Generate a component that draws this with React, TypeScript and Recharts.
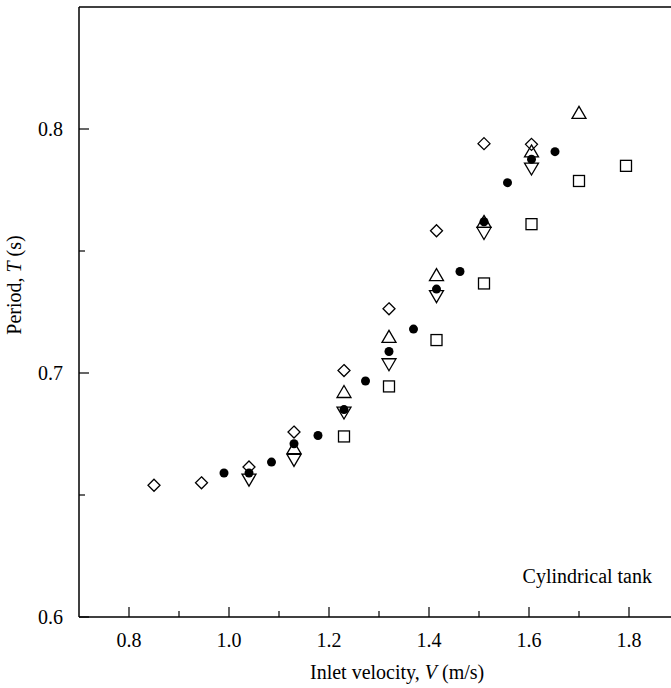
import React from 'react'
import { ScatterChart, Scatter, XAxis, YAxis, ReferenceLine } from 'recharts'

// tick values
const xTicks = [0.8, 0.9, 1.0, 1.1, 1.2, 1.3, 1.4, 1.5, 1.6, 1.7, 1.8]
const xMajor = [0.8, 1.0, 1.2, 1.4, 1.6, 1.8]
const yTicks = [0.6, 0.65, 0.7, 0.75, 0.8]
const yMajor = [0.6, 0.7, 0.8]

// open diamonds
const diamondV = [0.85, 0.945, 1.04, 1.13, 1.23, 1.32, 1.415, 1.51, 1.605]
const diamondT = [0.654, 0.655, 0.6615, 0.6758, 0.701, 0.7263, 0.7583, 0.794, 0.7937]

// filled circles
const dotV = [0.99, 1.04, 1.085, 1.13, 1.178, 1.23, 1.273, 1.32, 1.369, 1.415, 1.462, 1.51, 1.557, 1.605, 1.652]
const dotT = [0.659, 0.659, 0.6635, 0.671, 0.6744, 0.685, 0.6967, 0.7088, 0.718, 0.7344, 0.7416, 0.762, 0.778, 0.7876, 0.7907]

// open triangles (up)
const upV = [1.13, 1.23, 1.32, 1.415, 1.51, 1.605, 1.70]
const upT = [0.669, 0.692, 0.7146, 0.7399, 0.7617, 0.7906, 0.8064]

// open triangles (down)
const downV = [1.04, 1.13, 1.23, 1.32, 1.415, 1.51, 1.605]
const downT = [0.6565, 0.6646, 0.684, 0.7038, 0.7317, 0.7576, 0.784]

// open squares
const squareV = [1.23, 1.32, 1.415, 1.51, 1.605, 1.70, 1.794]
const squareT = [0.674, 0.6945, 0.7135, 0.7367, 0.761, 0.7787, 0.7849]

const toPoints = (vs: number[], ts: number[]) => vs.map((v, i) => ({ v, t: ts[i] }))

const serif = { fontFamily: "'Liberation Serif', 'Times New Roman', 'DejaVu Serif', serif" }
const FS = 20

const Diamond = ({ cx, cy }: any) => (
  <polygon points={`${cx},${cy - 6} ${cx + 6},${cy} ${cx},${cy + 6} ${cx - 6},${cy}`} fill="none" stroke="#000" strokeWidth={1.3} />
)
const Dot = ({ cx, cy }: any) => <circle cx={cx} cy={cy} r={4.5} fill="#000" />
const Up = ({ cx, cy }: any) => (
  <polygon points={`${cx},${cy - 7} ${cx + 7},${cy + 5} ${cx - 7},${cy + 5}`} fill="none" stroke="#000" strokeWidth={1.3} />
)
const Down = ({ cx, cy }: any) => (
  <polygon points={`${cx},${cy + 7} ${cx + 7},${cy - 5} ${cx - 7},${cy - 5}`} fill="none" stroke="#000" strokeWidth={1.3} />
)
const Square = ({ cx, cy }: any) => (
  <rect x={cx - 5.5} y={cy - 5.5} width={11} height={11} fill="none" stroke="#000" strokeWidth={1.3} />
)

const XTick = ({ x, y, payload }: any) => {
  const major = xMajor.some((m) => Math.abs(m - payload.value) < 1e-6)
  return (
    <g>
      <line x1={x} x2={x} y1={y} y2={y - (major ? 10 : 6)} stroke="#000" strokeWidth={1.2} />
      {major && (
        <text x={x} y={y + 30} textAnchor="middle" style={serif} fontSize={FS} fill="#000">
          {payload.value.toFixed(1)}
        </text>
      )}
    </g>
  )
}

const YTick = ({ x, y, payload }: any) => {
  const major = yMajor.some((m) => Math.abs(m - payload.value) < 1e-6)
  return (
    <g>
      <line x1={x} x2={x + (major ? 10 : 6)} y1={y} y2={y} stroke="#000" strokeWidth={1.2} />
      {major && (
        <text x={x - 16} y={y + 7} textAnchor="end" style={serif} fontSize={FS} fill="#000">
          {payload.value.toFixed(1)}
        </text>
      )}
    </g>
  )
}

export default function App() {
  return (
    <div style={{ position: 'absolute', left: 0, top: 0, width: 671, height: 688, overflow: 'hidden', background: '#fff' }}>
      <ScatterChart width={700} height={688} margin={{ top: 7, right: 21, bottom: 0, left: 0 }}>
        <XAxis
          type="number"
          dataKey="v"
          domain={[0.7, 1.9]}
          ticks={xTicks}
          interval={0}
          height={71}
          tickSize={0}
          tickMargin={0}
          tickLine={false}
          tick={<XTick />}
          axisLine={{ stroke: '#000', strokeWidth: 1.5 }}
          allowDataOverflow
        />
        <YAxis
          type="number"
          dataKey="t"
          domain={[0.6, 0.85]}
          ticks={yTicks}
          interval={0}
          width={79}
          tickSize={0}
          tickMargin={0}
          tickLine={false}
          tick={<YTick />}
          axisLine={{ stroke: '#000', strokeWidth: 1.5 }}
          allowDataOverflow
        />
        <ReferenceLine y={0.85} stroke="#000" strokeWidth={1.5} />
        <Scatter data={toPoints(squareV, squareT)} shape={<Square />} isAnimationActive={false} />
        <Scatter data={toPoints(downV, downT)} shape={<Down />} isAnimationActive={false} />
        <Scatter data={toPoints(upV, upT)} shape={<Up />} isAnimationActive={false} />
        <Scatter data={toPoints(diamondV, diamondT)} shape={<Diamond />} isAnimationActive={false} />
        <Scatter data={toPoints(dotV, dotT)} shape={<Dot />} isAnimationActive={false} />
        <text x={310} y={679} textAnchor="start" style={serif} fontSize={FS} fill="#000">
          Inlet velocity, <tspan fontStyle="italic">V</tspan> (m/s)
        </text>
        <text
          x={21}
          y={285}
          textAnchor="middle"
          style={serif}
          fontSize={FS}
          fill="#000"
          transform="rotate(-90 21 285)"
        >
          Period, <tspan fontStyle="italic">T</tspan> (s)
        </text>
        <text x={652} y={583} textAnchor="end" style={serif} fontSize={FS} fill="#000">
          Cylindrical tank
        </text>
      </ScatterChart>
    </div>
  )
}
